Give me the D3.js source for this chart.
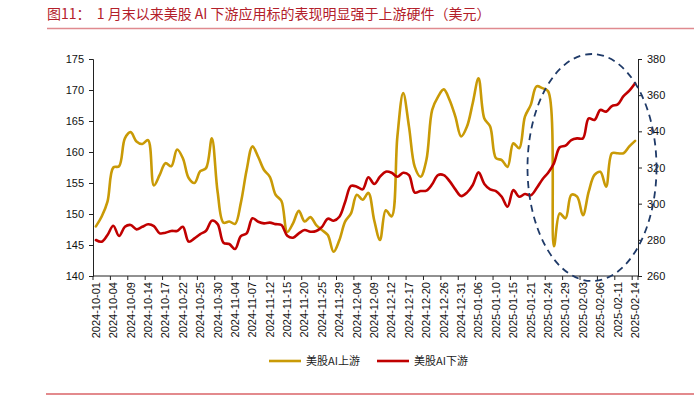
<!DOCTYPE html>
<html>
<head>
<meta charset="utf-8">
<script src="https://cdn.jsdelivr.net/npm/d3@7/dist/d3.min.js"></script>
<style>
    body { margin: 0; background: #fff; }
    svg { display: block; }
</style>
</head>
<body>
<svg id="chart" width="694" height="399"></svg>
<script>
    // trading days, 2024-10-01 .. 2025-02-14
    var dates = [
        "2024-10-01","2024-10-02","2024-10-03","2024-10-04","2024-10-07","2024-10-08","2024-10-09","2024-10-10","2024-10-11","2024-10-14",
        "2024-10-15","2024-10-16","2024-10-17","2024-10-18","2024-10-21","2024-10-22","2024-10-23","2024-10-24","2024-10-25","2024-10-28",
        "2024-10-29","2024-10-30","2024-10-31","2024-11-01","2024-11-04","2024-11-05","2024-11-06","2024-11-07","2024-11-08","2024-11-11",
        "2024-11-12","2024-11-13","2024-11-14","2024-11-15","2024-11-18","2024-11-19","2024-11-20","2024-11-21","2024-11-22","2024-11-25",
        "2024-11-26","2024-11-27","2024-11-29","2024-12-02","2024-12-03","2024-12-04","2024-12-05","2024-12-06","2024-12-09","2024-12-10",
        "2024-12-11","2024-12-12","2024-12-13","2024-12-16","2024-12-17","2024-12-18","2024-12-19","2024-12-20","2024-12-23","2024-12-24",
        "2024-12-26","2024-12-27","2024-12-30","2024-12-31","2025-01-02","2025-01-03","2025-01-06","2025-01-07","2025-01-08","2025-01-10",
        "2025-01-13","2025-01-14","2025-01-15","2025-01-16","2025-01-17","2025-01-21","2025-01-22","2025-01-23","2025-01-24","2025-01-27",
        "2025-01-28","2025-01-29","2025-01-30","2025-01-31","2025-02-03","2025-02-04","2025-02-05","2025-02-06","2025-02-07","2025-02-10",
        "2025-02-11","2025-02-12","2025-02-13","2025-02-14"
    ];

    // 美股AI上游 (left axis)
    var upstream = [
        148.0,149.6,152.0,157.5,157.7,162.2,163.2,161.7,161.3,161.9,
        154.6,156.3,158.2,157.7,160.4,159.0,155.8,155.0,156.9,157.4,
        162.2,153.5,148.6,148.8,148.4,151.8,157.1,160.9,159.2,157.1,
        156.0,153.1,152.1,147.1,148.5,150.5,148.8,149.5,148.2,147.4,
        146.6,143.9,145.8,148.8,150.1,153.1,152.3,153.4,149.0,145.8,
        150.6,149.6,162.5,169.5,164.1,157.6,156.0,158.7,166.8,168.9,
        170.1,168.4,165.7,162.5,164.1,167.9,171.9,165.4,164.1,159.0,
        158.7,157.6,161.4,160.6,165.7,167.6,170.6,170.3,169.8,144.8,
        150.1,149.3,153.1,152.8,149.8,153.6,156.3,156.8,154.4,159.8,
        159.8,159.8,160.9,161.8
    ];

    // 美股AI下游 (right axis)
    var downstream = [
        279.9,279.0,282.7,287.8,282.1,287.2,288.2,285.8,287.2,288.6,
        287.6,283.6,283.9,284.9,284.9,287.2,279.0,280.8,283.2,285.0,
        290.6,288.7,278.4,277.7,274.9,282.1,283.6,291.9,290.0,289.1,
        289.5,288.7,288.2,282.3,281.2,283.6,285.4,284.5,284.9,287.2,
        291.7,290.6,292.8,301.1,309.8,309.4,307.9,314.6,310.9,314.9,
        317.7,317.1,314.9,317.1,315.8,306.1,307.0,307.2,310.7,315.8,
        315.8,312.5,307.9,304.2,306.1,310.3,317.3,310.9,307.9,307.0,
        303.8,298.3,307.5,303.8,305.3,304.6,308.5,313.4,317.1,322.3,
        331.2,332.1,335.2,336.1,336.1,347.2,346.3,351.8,350.9,354.0,
        354.9,359.5,362.5,366.6
    ];

    var leftTicks = [140, 145, 150, 155, 160, 165, 170, 175];
    var rightTicks = [260, 280, 300, 320, 340, 360, 380];
    var seriesNames = ["美股AI上游", "美股AI下游"];
    var title = "图11：  1 月末以来美股 AI 下游应用标的表现明显强于上游硬件（美元）";

    var gold = "#c99a06", red = "#c00000";
    var numFont = "'Liberation Sans', Arial, sans-serif";
    var cjkFont = "'Noto Sans CJK SC', sans-serif";

    var svg = d3.select("#chart");
    var plotL = 93, plotR = 638, plotT = 59, plotB = 276;

    var x = d3.scaleLinear().domain([-0.5, dates.length - 0.5]).range([plotL, plotR]);
    var yL = d3.scaleLinear().domain([140, 175]).range([plotB, plotT]);
    var yR = d3.scaleLinear().domain([260, 380]).range([plotB, plotT]);

    // title + rules
    svg.append("text")
        .attr("x", 47).attr("y", 19)
        .attr("font-family", cjkFont).attr("font-size", 14)
        .attr("fill", "#b3202a")
        .attr("xml:space", "preserve")
        .text(title);
    svg.append("line").attr("x1", 47).attr("x2", 694).attr("y1", 28.5).attr("y2", 28.5)
        .attr("stroke", "#e08a8f").attr("stroke-width", 1.5);
    svg.append("line").attr("x1", 46).attr("x2", 694).attr("y1", 394).attr("y2", 394)
        .attr("stroke", "#c8161d").attr("stroke-width", 1.2);

    // axes
    var axL = svg.append("g").attr("transform", "translate(" + plotL + ",0)")
        .call(d3.axisLeft(yL).tickValues(leftTicks).tickSize(4).tickPadding(5));
    var axR = svg.append("g").attr("transform", "translate(" + plotR + ",0)")
        .call(d3.axisRight(yR).tickValues(rightTicks).tickSize(4).tickPadding(5));
    [axL, axR].forEach(function (a) {
        a.select(".domain").attr("stroke", "#222");
        a.selectAll(".tick line").attr("stroke", "#222");
        a.selectAll("text").attr("font-family", numFont).attr("font-size", 11).attr("fill", "#111");
    });

    // x axis
    var gx = svg.append("g");
    gx.append("line").attr("x1", plotL).attr("x2", plotR).attr("y1", plotB).attr("y2", plotB)
        .attr("stroke", "#222");
    var labelIdx = d3.range(0, dates.length, 3);
    gx.selectAll("line.tk").data(labelIdx.concat([dates.length])).enter().append("line")
        .attr("class", "tk")
        .attr("x1", function (d) { return x(d - 0.5); })
        .attr("x2", function (d) { return x(d - 0.5); })
        .attr("y1", plotB).attr("y2", plotB + 4)
        .attr("stroke", "#222");
    gx.selectAll("text").data(labelIdx).enter().append("text")
        .attr("transform", function (d) { return "translate(" + x(d) + "," + (plotB + 6) + ") rotate(-90)"; })
        .attr("dy", "0.35em")
        .attr("text-anchor", "end")
        .attr("font-family", numFont).attr("font-size", 11).attr("fill", "#111")
        .text(function (d) { return dates[d]; });

    // lines
    var lineL = d3.line().x(function (d, i) { return x(i); }).y(function (d) { return yL(d); })
        .curve(d3.curveCatmullRom.alpha(0.5));
    var lineR = d3.line().x(function (d, i) { return x(i); }).y(function (d) { return yR(d); })
        .curve(d3.curveCatmullRom.alpha(0.5));

    svg.append("path").datum(upstream).attr("d", lineL)
        .attr("fill", "none").attr("stroke", gold).attr("stroke-width", 2.6)
        .attr("stroke-linejoin", "round").attr("stroke-linecap", "round");
    svg.append("path").datum(downstream).attr("d", lineR)
        .attr("fill", "none").attr("stroke", red).attr("stroke-width", 2.6)
        .attr("stroke-linejoin", "round").attr("stroke-linecap", "round");

    // highlight ellipse
    svg.append("ellipse")
        .attr("cx", 592).attr("cy", 167.5).attr("rx", 64.5).attr("ry", 113.5)
        .attr("fill", "none").attr("stroke", "#1f3a68").attr("stroke-width", 1.8)
        .attr("stroke-dasharray", "7,5");

    // legend
    var legend = svg.append("g").selectAll("g").data(seriesNames).enter().append("g")
        .attr("transform", function (d, i) { return "translate(" + (269 + i * 108) + ",361)"; });
    legend.append("line").attr("x1", 0).attr("x2", 32).attr("y1", 0).attr("y2", 0)
        .attr("stroke", function (d, i) { return i === 0 ? gold : red; }).attr("stroke-width", 2.6);
    legend.append("text").attr("x", 37).attr("dy", "0.35em")
        .attr("font-family", cjkFont).attr("font-size", 11).attr("fill", "#222")
        .text(function (d) { return d; });
</script>
</body>
</html>
